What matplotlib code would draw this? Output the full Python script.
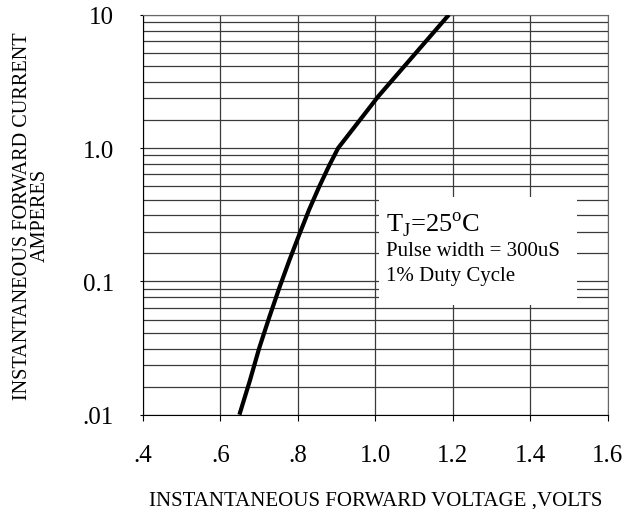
import numpy as np
import matplotlib
matplotlib.use('Agg')
import matplotlib.pyplot as plt
from matplotlib.patches import Rectangle

plt.rcParams['font.family'] = 'Liberation Serif'
plt.rcParams['mathtext.fontset'] = 'custom'
plt.rcParams['mathtext.rm'] = 'Liberation Serif'

# forward characteristic
vf = [0.649, 0.676, 0.700, 0.726, 0.752, 0.778, 0.804, 0.829, 0.855,
      0.881, 0.904, 1.008, 1.190]
i_f = [0.01, 0.018, 0.0315, 0.0537, 0.0893, 0.144, 0.226, 0.345, 0.513,
       0.741, 1.0, 2.45, 10.0]

x_ticks = [0.4, 0.6, 0.8, 1.0, 1.2, 1.4, 1.6]
x_labels = ['.4', '.6', '.8', '1.0', '1.2', '1.4', '1.6']
y_ticks = [0.01, 0.1, 1.0, 10.0]
y_labels = ['.01', '0.1', '1.0', '10']
# horizontal rulings inside each decade (as drawn on the original sheet)
grid_mant = [8.81, 7.59, 6.35, 5.15, 4.09, 3.13, 2.36, 1.62]
decades = [0.01, 0.1, 1.0]

fig = plt.figure(figsize=(6.42, 5.10), dpi=100)
ax = fig.add_axes([0.2227, 0.1849, 0.7239, 0.7843])

ax.set_yscale('log')
ax.set_xlim(0.4, 1.6)
ax.set_ylim(0.01, 10)

ax.set_xticks(x_ticks)
ax.set_xticklabels(x_labels)
ax.set_yticks(y_ticks)
ax.set_yticklabels(y_labels)
minor = [d * m for d in decades for m in grid_mant]
ax.set_yticks(minor, minor=True)
ax.yaxis.set_minor_formatter(plt.NullFormatter())

ax.tick_params(axis='x', which='major', labelsize=18, length=4, direction='out', pad=17)
ax.tick_params(axis='y', which='major', labelsize=18, length=2, pad=19)
ax.tick_params(axis='y', which='minor', length=0)

ax.set_axisbelow(True)
ax.grid(True, axis='x', which='major', color='#3a3a3a', linewidth=0.9)
ax.grid(True, axis='y', which='both', color='#3a3a3a', linewidth=0.9)

for s in ['top', 'right']:
    ax.spines[s].set_color('#666666')
for s in ['left', 'bottom']:
    ax.spines[s].set_color('black')

# white panel behind the test conditions
ax.add_patch(Rectangle((0.508, 0.274), 0.426, 0.27, transform=ax.transAxes,
                       facecolor='white', edgecolor='none', zorder=1.5))

ax.plot(vf, i_f, color='black', linewidth=3, zorder=3, solid_capstyle='butt')

ax.text(0.523, 0.477, r'T$_\mathrm{J}$=25$^\mathrm{o}$C', transform=ax.transAxes,
        fontsize=19, va='center', ha='left', zorder=4)
ax.text(0.523, 0.41, 'Pulse width = 300uS', transform=ax.transAxes,
        fontsize=15, va='center', ha='left', zorder=4)
ax.text(0.523, 0.3475, '1% Duty Cycle', transform=ax.transAxes,
        fontsize=15, va='center', ha='left', zorder=4)

ax.set_xlabel('INSTANTANEOUS FORWARD VOLTAGE ,VOLTS', fontsize=15, labelpad=17.5)
ax.set_ylabel('INSTANTANEOUS FORWARD CURRENT\nAMPERES', fontsize=14.6,
              linespacing=0.9, labelpad=23.5)

fig.savefig('out.png', dpi=100)
